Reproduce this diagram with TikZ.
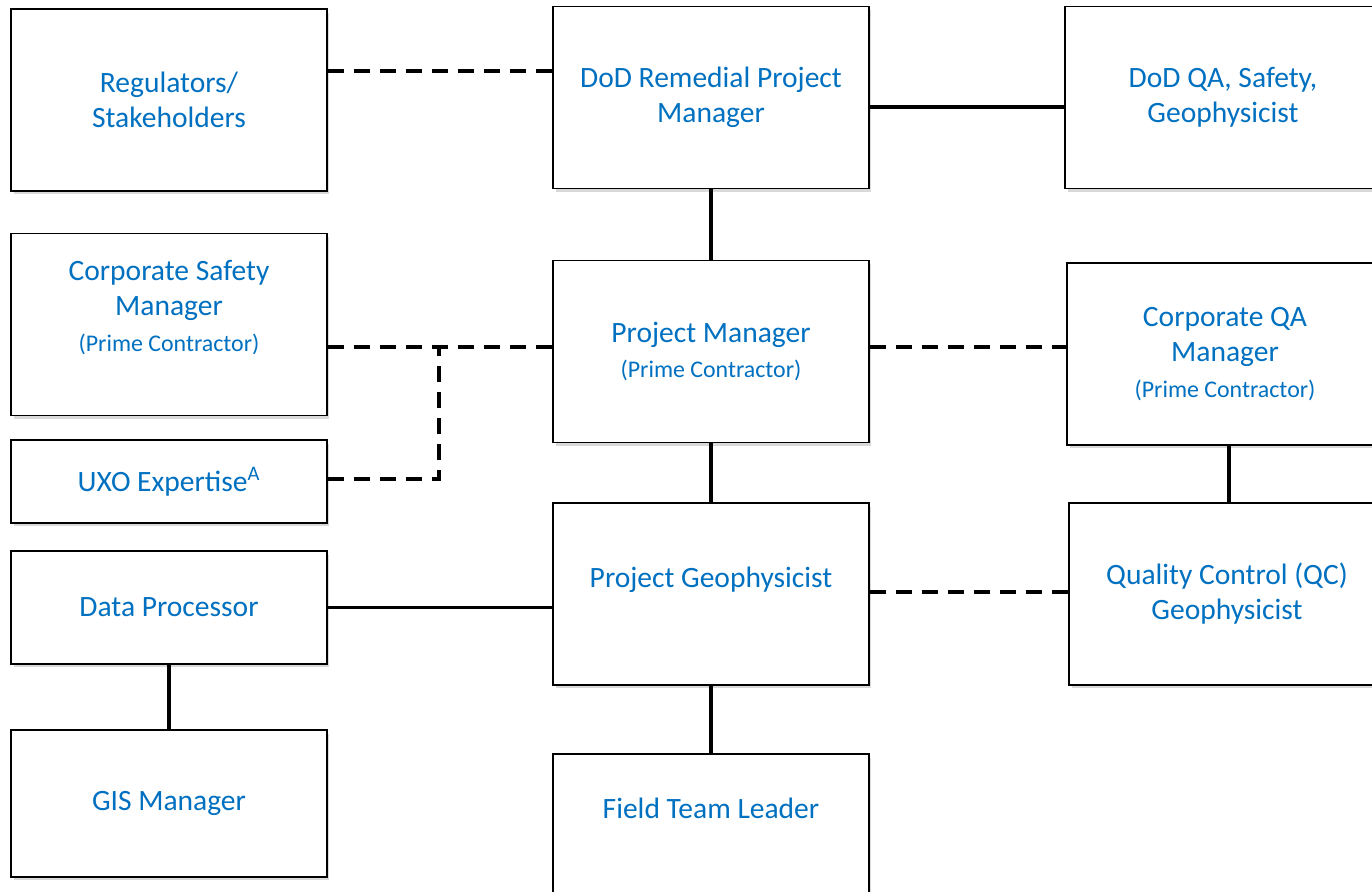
\documentclass[tikz,border=0pt]{standalone}
\usepackage{fontspec}
\setmainfont{Carlito}
\usepackage{xcolor}
\usepackage{tikz}
\usetikzlibrary{shadows}
\definecolor{org_blue}{RGB}{0, 112, 192}
\newcommand\primectr{{\fontsize{13.6}{18}\selectfont (Prime Contractor)}}

\begin{document}
\begin{tikzpicture}[x=0.02cm, y=-0.02cm,
      box/.style={draw=black, line width=1.1pt, fill=white, align=center,
                  minimum width=6.32cm, minimum height=3.64cm, text=org_blue,
                  font=\fontsize{16.8}{20}\selectfont,
                  drop shadow={shadow xshift=0.05cm, shadow yshift=-0.07cm, opacity=0.3}},
      ln/.style={line width=2pt},
      dln/.style={line width=2pt, dash pattern=on 0.32cm off 0.2cm}]
      \useasboundingbox (0,0) rectangle (1372,892);
      \node[box] (reg)    at (169, 100)  {Regulators/\\Stakeholders};
      \node[box] (dodrpm) at (711, 97.5) {DoD Remedial Project\\Manager};
      \node[box] (dodqa)  at (1223,97.5) {DoD QA, Safety,\\Geophysicist};
      \node[box, text depth=0.75cm] (corpsafe) at (169, 324.5) {Corporate Safety\\Manager\\\primectr};
      \node[box] (pm)     at (711, 351.5) {Project Manager\\\primectr};
      \node[box] (corpqa) at (1225,354)  {Corporate QA\\Manager\\\primectr};
      \node[box, minimum height=1.66cm] (uxo) at (169, 481.5) {UXO Expertise\textsuperscript{A}};
      \node[box, text depth=0.67cm] (pg) at (711, 594) {Project Geophysicist};
      \node[box] (qc)     at (1227,594)  {Quality Control (QC)\\Geophysicist};
      \node[box, minimum height=2.26cm] (dataproc) at (169, 607.5) {Data Processor};
      \node[box, minimum height=2.94cm] (gis) at (169, 803.5) {GIS Manager};
      \node[box, minimum height=3cm, text depth=0.84cm] (ftl) at (711, 829) {Field Team Leader};
      \coordinate (jct) at (439, 347);
      \draw[dln] (reg.east |- 0,71) -- (dodrpm.west |- 0,71);
      \draw[ln] (dodrpm.east |- 0,107) -- (dodqa.west |- 0,107);
      \draw[ln] (dodrpm.south) -- (pm.north);
      \draw[dln] (corpsafe.east |- 0,347) -- (pm.west |- 0,347);
      \draw[dln] (uxo.east |- 0,479) -| (jct);
      \draw[dln] (pm.east |- 0,347) -- (corpqa.west |- 0,347);
      \draw[ln] (pm.south) -- (pg.north);
      \draw[ln] (corpqa.south -| 1229,0) -- (qc.north -| 1229,0);
      \draw[dln] (pg.east |- 0,592) -- (qc.west |- 0,592);
      \draw[ln] (dataproc.east) -- (pg.west |- dataproc.east);
      \draw[ln] (dataproc.south) -- (gis.north);
      \draw[ln] (pg.south) -- (ftl.north);
    \end{tikzpicture}
\end{document}
